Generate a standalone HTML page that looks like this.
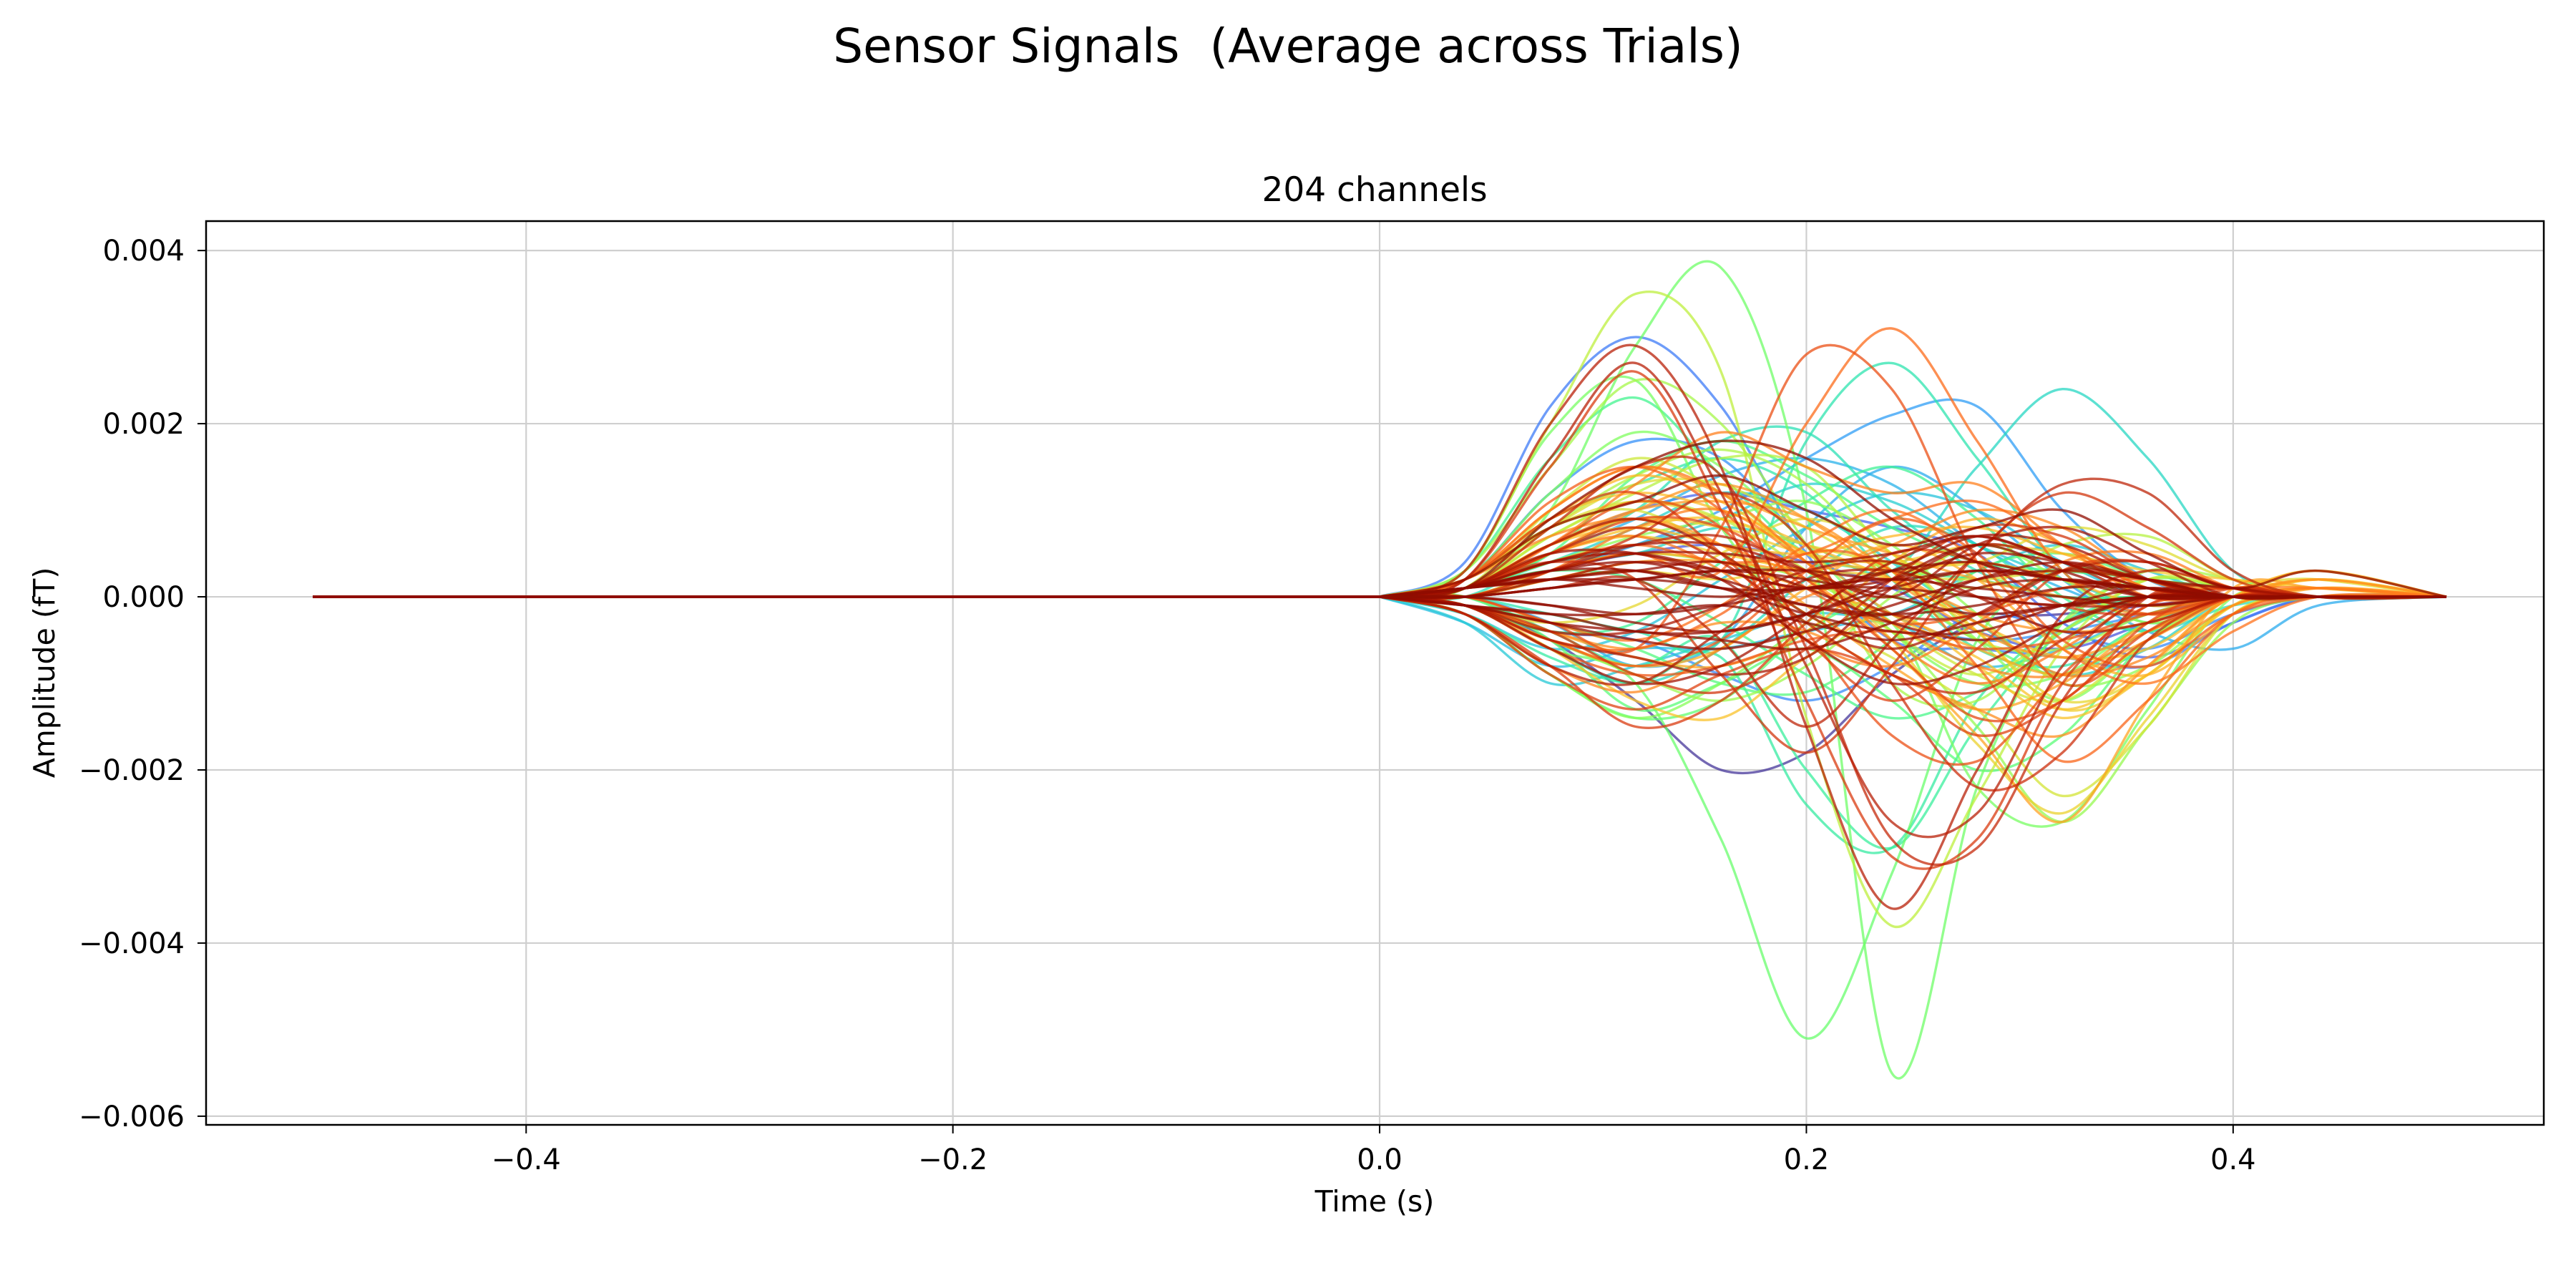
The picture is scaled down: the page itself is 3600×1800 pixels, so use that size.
<!DOCTYPE html>
<html><head><meta charset="utf-8">
<style>
html,body{margin:0;padding:0;background:#fff;}
svg{display:block;font-family:"DejaVu Sans","Liberation Sans",sans-serif;}
</style></head>
<body>
<svg id="chart" width="3600" height="1800" viewBox="0 0 3600 1800">
<rect x="0" y="0" width="3600" height="1800" fill="#fff"/>
<text x="1800" y="87" font-size="66" text-anchor="middle" xml:space="preserve">Sensor Signals  (Average across Trials)</text>
<text x="1921" y="281" font-size="47" text-anchor="middle">204 channels</text>
<g id="grid"></g>
<clipPath id="clip"><rect x="288" y="309" width="3267" height="1263"/></clipPath>
<g id="lines" clip-path="url(#clip)"></g>
<rect x="288" y="309" width="3267" height="1263" fill="none" stroke="#000" stroke-width="2.5"/>
<g id="ticks"></g>
<text x="1921" y="1693" font-size="41" text-anchor="middle">Time (s)</text>
<text x="0" y="0" font-size="41" text-anchor="middle" transform="translate(76,940) rotate(-90)">Amplitude (fT)</text>
</svg>
<script>
// knot times (s) for the post-stimulus section; values in units of 1e-3
const knotTimes = [0,0.04,0.08,0.12,0.16,0.2,0.24,0.28,0.32,0.36,0.4,0.44,0.5];
const xTicks = [-0.4,-0.2,0.0,0.2,0.4];
const xTickLabels = ["\u22120.4","\u22120.2","0.0","0.2","0.4"];
const yTicks = [0.004,0.002,0,-0.002,-0.004,-0.006];
const yTickLabels = ["0.004","0.002","0.000","\u22120.002","\u22120.004","\u22120.006"];
const channelColors = [0.05,0.1,0.15,0.18,0.2,0.22,0.25,0.28,0.3,0.32,0.33,0.35,0.36,0.38,0.4,0.42,0.44,0.45,0.46,0.48,0.5,0.52,0.54,0.55,0.57,0.6,0.62,0.64,0.66,0.68,0.7,0.71,0.72,0.73,0.74,0.75,0.76,0.77,0.78,0.79,0.8,0.81,0.82,0.83,0.84,0.85,0.86,0.87,0.88,0.89,0.9,0.9,0.91,0.92,0.92,0.93,0.93,0.94,0.94,0.95,0.95,0.96,0.96,0.97,0.97,0.98,0.98,0.99,0.99,1.0,1.0,0.63,0.67,0.69,0.58,0.43,0.27,0.37,0.53,0.85,
0.12,0.17,0.23,0.26,0.29,0.31,0.34,0.39,0.41,0.47,0.49,0.51,0.56,0.59,0.61,0.65,0.67,0.69,0.7,0.72,0.74,0.76,0.78,0.8,0.82,0.84,0.86,0.88,0.9,0.92,0.94,0.96,0.97,0.98,0.99,1.0,0.75,0.65,0.35,0.45];
const channelValues = [
[0,-0.1,-0.5,-1.2,-2.0,-1.8,-0.9,-0.3,-0.2,-0.1,0,0,0],
[0,0,0.3,0.5,0.6,0.4,0.1,-0.4,-0.6,-0.3,0,0,0],
[0,0.4,2.2,3.0,2.2,0.5,-0.5,-0.6,-0.7,-0.8,-0.3,0,0],
[0,0.2,1.2,1.8,1.6,0.6,-0.2,-0.5,-0.4,-0.2,0,0,0],
[0,0,0.3,0.6,1.0,1.6,2.1,2.2,1.0,0.2,0,0,0],
[0,0,-0.3,-0.8,-0.5,0.8,1.5,1.0,0.2,-0.4,-0.6,-0.1,0],
[0,-0.3,-0.8,-0.6,-0.6,-0.4,-0.3,-0.8,-0.6,-0.2,0,0,0],
[0,0.1,0.4,0.6,0.9,1.3,1.1,0.6,0.2,-0.1,0,0,0],
[0,0.1,0.4,0.5,0.8,0.6,0.3,1.5,2.4,1.6,0.3,0,0],
[0,0,0.5,1.0,1.8,1.9,1.0,0.3,0,0,0,0,0],
[0,0,-0.2,-0.4,-0.5,1.8,2.7,1.6,0.3,-0.3,0,0,0],
[0,-0.2,-0.7,-1.0,-0.7,-2.4,-2.9,-1.2,-0.3,0,0,0,0],
[0,0,-0.4,-0.8,-0.5,-2.0,-2.9,-1.5,-0.4,0,0,0,0],
[0,0.3,1.6,2.3,1.4,0.5,0.3,0.2,0.0,0,0,0,0],
[0,0.1,0.5,1.4,1.8,1.4,0.8,0.4,0.3,0.2,0,0,0],
[0,0,-0.5,-1.3,-1.0,-0.6,-1.2,-2.0,-1.6,-0.5,0,0,0],
[0,-0.1,-0.6,-1.0,-2.8,-5.1,-3.2,-0.5,0.3,0.2,0.1,0,0],
[0,0.1,1.0,2.9,3.8,1.0,-5.5,-2.2,-0.3,0.2,0.1,0,0],
[0,0.3,1.9,2.5,0.8,-0.3,-0.3,-2.2,-2.6,-1.3,0,0,0],
[0,-0.2,-0.9,-1.4,-1.0,-0.3,0.4,-0.5,-1.2,-0.5,0,0,0],
[0,0,0.3,0.5,0.4,0.2,-0.4,-1.5,-2.6,-1.5,-0.3,0,0],
[0,0.3,1.5,2.5,2.0,0.6,-1.0,-1.2,-0.3,0.3,0.2,0,0],
[0,0.1,0.7,1.2,1.6,1.5,0.5,0.1,0.6,0.7,0.2,0,0],
[0,0.3,2.0,3.5,2.6,-1.4,-3.8,-2.3,-0.6,0.2,0.1,0,0],
[0,0.1,1.0,1.6,1.2,0.4,-0.3,-0.9,-1.2,-0.5,0,0,0],
[0,0.2,0.8,1.1,0.9,0.6,0.4,0.4,0.8,0.6,0.2,0.2,0],
[0,0,0.2,0.3,0.2,0.3,-0.5,-1.7,-2.5,-1.4,-0.2,0,0],
[0,0.1,0.6,0.9,0.8,0.5,0.4,0.6,0.5,0.3,0.2,0.1,0],
[0,0.2,0.9,1.2,1.0,0.6,0.2,-0.3,-0.7,-0.6,0,0.3,0],
[0,-0.1,-0.5,-0.8,-0.6,0.1,0.6,0.2,-0.6,-0.9,-0.2,0.1,0],
[0,0,0.2,0.4,0.4,0.2,-0.6,-1.6,-2.6,-1.2,0.1,0.1,0],
[0,0.2,1.0,1.5,1.2,0.8,0.5,0.2,0.0,-0.2,0,0.1,0],
[0,0.1,0.6,1.0,1.1,0.9,0.3,-0.2,-0.4,-0.3,0,0.1,0],
[0,-0.1,-0.4,-0.6,-0.3,-0.4,-0.9,-1.3,-1.6,-0.8,0,0,0],
[0,0.2,0.7,0.9,0.6,0.3,0.6,1.0,0.8,0.2,0,0,0],
[0,0,0.3,0.8,1.0,0.4,-0.3,-0.8,-0.9,-0.4,0,0,0],
[0,0.1,0.5,0.7,0.3,-0.5,-0.8,-0.3,0.4,0.5,0.1,0,0],
[0,0,-0.3,-0.5,-0.1,0.6,1.0,0.4,-0.6,-1.0,-0.4,0,0],
[0,0.1,0.3,0.5,0.3,2.0,3.1,1.8,0.3,-0.2,0,0,0],
[0,-0.1,-0.5,-0.6,-0.2,0.5,0.3,-0.8,-1.9,-1.2,-0.2,0,0],
[0,0.2,1.1,1.5,1.0,0.1,-0.3,-0.2,0.1,0.2,0,0,0],
[0,-0.1,-0.6,-0.9,-0.8,-0.5,-0.4,-0.6,-0.5,-0.2,0,0,0],
[0,0,-0.3,-0.6,0.8,2.8,2.4,0.4,-1.0,-0.5,0,0,0],
[0,0.1,0.5,0.9,0.8,0.2,-0.6,-1.4,-1.2,-0.3,0.1,0,0],
[0,-0.2,-0.9,-1.3,-0.9,-0.6,-0.9,-1.6,-1.2,-0.4,0,0,0],
[0,0.2,1.5,2.6,1.0,-1.2,-3.0,-2.8,-1.0,-0.1,0.1,0,0],
[0,0.1,0.4,0.2,-0.9,-1.8,-0.8,0.5,1.2,0.8,0.2,0,0],
[0,0,0.3,0.7,1.2,0.6,-1.0,-2.2,-1.8,-0.5,0,0,0],
[0,0.1,0.8,1.5,1.4,-0.6,-2.8,-2.9,-1.2,0,0.1,0,0],
[0,0,0.1,0.2,-0.5,-1.5,-0.5,0.5,1.3,1.2,0.3,0,0],
[0,0.3,2.0,2.9,1.5,-1.5,-3.6,-2.0,-0.2,0.3,0.1,0,0],
[0,0.2,1.6,2.7,1.2,-0.8,-2.6,-2.5,-0.8,0,0,0,0],
[0,-0.2,-0.8,-1.0,-0.4,0.2,0.3,0.0,-0.1,-0.1,0,0,0],
[0,0.1,0.6,0.9,0.5,-0.2,-0.6,-0.2,0.3,0.2,0,0,0],
[0,-0.1,-0.5,-0.7,-0.9,-0.7,0.1,0.6,0.4,0,0,0,0],
[0,0.1,0.4,0.6,0.6,0.3,0.0,0.6,0.8,0.4,0,0,0],
[0,-0.1,-0.6,-1.0,-0.8,-0.2,0.4,0.7,0.4,0.1,0,0,0],
[0,0.1,0.5,0.5,0.2,-0.5,-1.0,-0.8,-0.3,0,0,0,0],
[0,0.1,0.2,0.4,0.3,0.1,0.3,0.7,0.6,0.2,0,0,0],
[0,-0.1,-0.3,-0.5,-0.6,-0.4,-0.1,0.2,0.3,0.2,0,0,0],
[0,0.1,0.4,0.5,0.3,0.1,0.2,0.5,0.4,0.2,0.1,0,0],
[0,0,0.2,0.3,0.4,0.1,-0.3,-0.5,-0.3,0,0,0,0],
[0,-0.1,-0.3,-0.4,-0.5,-0.6,-0.3,0.1,0.2,0.1,0,0,0],
[0,0.1,0.3,0.4,0.2,-0.1,-0.2,0.2,0.4,0.2,0,0,0],
[0,0,-0.1,-0.3,-0.4,-0.2,0.2,0.6,0.3,0,0,0,0],
[0,0.1,0.3,0.3,0.1,0.1,0.3,0.4,0.2,0.1,0,0,0],
[0,-0.1,-0.2,-0.2,-0.1,-0.3,-0.5,-0.3,-0.1,0,0,0,0],
[0,0.1,0.2,0.2,0.3,0.2,0.0,-0.2,-0.1,0,0,0,0],
[0,0,-0.1,-0.2,-0.1,0.1,0.2,0.1,0.0,-0.1,0,0,0],
[0,0.1,0.2,0.1,0.0,0.1,0.1,0.0,-0.1,0,0,0,0],
[0,0,0.1,0.2,0.1,-0.1,-0.2,-0.1,0.1,0.1,0,0,0],
[0,0.1,0.5,0.7,0.5,0.3,0.2,-0.4,-1.3,-0.9,-0.1,0.2,0],
[0,0.1,0.6,0.8,0.6,0.5,0.7,0.8,0.5,0.2,0.1,0.3,0],
[0,0,0.3,0.5,0.4,0.1,-0.2,-0.6,-0.9,-0.5,0,0.2,0],
[0,0.2,0.8,1.0,0.5,-0.2,-0.7,-1.3,-2.3,-1.5,-0.2,0,0],
[0,-0.2,-0.9,-1.4,-1.2,-0.4,0.0,-0.5,-0.9,-0.4,0,0,0],
[0,-0.3,-1.0,-0.8,-0.5,-0.2,-0.2,0.3,0.6,0.3,0,0,0],
[0,-0.1,-0.4,-0.3,0.4,1.1,1.5,0.9,0.0,-0.4,0,0,0],
[0,0.1,0.8,1.4,1.7,1.3,0.3,-0.5,-0.6,-0.2,0,0,0],
[0,-0.2,-0.8,-1.5,-1.2,-0.3,0.5,0.4,-0.1,-0.2,0,0,0],
[0,0.1,0.6,1.0,1.2,1.0,0.8,0.5,-0.3,-0.7,-0.3,0,0],
[0,-0.1,-0.4,-0.5,-0.9,-1.2,-0.8,-0.2,-0.4,-0.6,-0.2,0,0],
[0,0.1,0.5,0.9,1.4,1.6,1.3,0.6,0.1,-0.2,0,0,0],
[0,-0.2,-0.6,-0.4,0.2,0.8,1.2,1.0,0.4,0,0,0,0],
[0,0.1,0.4,0.8,1.2,1.0,0.4,-0.3,-0.9,-0.6,0,0,0],
[0,-0.1,-0.6,-1.0,-0.6,0.2,0.8,0.6,-0.1,-0.4,-0.1,0,0],
[0,0.2,0.9,1.3,1.6,1.2,0.2,-0.6,-0.8,-0.3,0,0,0],
[0,0.1,0.3,0.2,-0.3,-0.9,-1.4,-1.1,-0.4,0,0,0,0],
[0,-0.1,-0.3,-0.6,-1.0,-1.1,-0.5,0.3,0.5,0.2,0,0,0],
[0,0.2,1.2,1.9,1.5,0.6,-0.4,-1.0,-0.9,-0.3,0,0,0],
[0,0.1,0.4,0.7,0.9,1.1,0.6,-0.2,-1.0,-0.8,-0.1,0,0],
[0,-0.1,-0.5,-0.9,-1.2,-0.8,0.0,0.6,0.2,-0.3,0,0,0],
[0,0.1,0.7,1.1,0.9,0.3,-0.4,-0.9,-0.4,0.2,0.1,0,0],
[0,0.2,0.8,1.3,1.3,0.8,0.3,0.2,0.3,0.2,0,0,0],
[0,-0.1,-0.3,-0.1,0.5,0.9,0.5,-0.4,-1.2,-0.9,-0.1,0,0],
[0,0.1,0.5,0.8,0.9,0.5,-0.2,-0.7,-1.3,-0.8,0,0,0],
[0,0.2,0.9,1.4,1.1,0.5,0.3,0.4,0.2,-0.1,0,0.2,0],
[0,-0.1,-0.4,-0.7,-0.8,-0.4,0.4,0.9,0.6,0.1,0,0.1,0],
[0,0.1,0.6,0.9,0.6,-0.1,-0.8,-1.3,-1.0,-0.3,0,0.1,0],
[0,0.1,0.5,1.0,1.3,0.9,0.2,-0.4,-0.7,-0.4,0,0.2,0],
[0,-0.2,-0.8,-1.1,-0.6,0.0,0.2,-0.3,-0.9,-0.7,-0.1,0.1,0],
[0,0.2,1.0,1.5,1.2,0.4,-0.5,-1.0,-0.6,0.0,0.1,0.1,0],
[0,0.1,0.4,0.6,0.4,0.5,0.9,1.1,0.6,0.1,0,0,0],
[0,-0.1,-0.5,-0.8,-0.5,0.3,0.9,0.5,-0.5,-0.8,-0.2,0,0],
[0,0.1,0.6,1.1,0.8,-0.4,-1.6,-1.9,-0.9,-0.1,0,0,0],
[0,0.2,0.9,1.2,0.5,-0.5,-1.2,-0.6,0.3,0.4,0.1,0,0],
[0,-0.1,-0.4,-0.9,-1.1,-0.6,0.2,0.8,0.7,0.2,0,0,0],
[0,0.1,0.5,0.8,0.4,-0.3,-0.9,-1.1,-0.5,0,0,0,0],
[0,0.1,0.3,0.6,0.7,0.3,-0.2,-0.2,0.3,0.4,0.1,0,0],
[0,-0.1,-0.4,-0.4,-0.1,0.3,0.4,0.0,-0.4,-0.3,0,0,0],
[0,0.1,0.3,0.5,0.5,0.4,0.5,0.7,0.4,0.1,0,0,0],
[0,-0.1,-0.2,-0.4,-0.4,-0.2,0.1,0.3,0.2,0.0,0,0,0],
[0,0.1,0.2,0.3,0.1,-0.2,-0.4,-0.4,-0.1,0.1,0,0,0],
[0,0,0.1,0.2,0.3,0.3,0.2,0.3,0.2,0.1,0,0,0],
[0,0.2,0.8,1.1,1.4,1.0,0.6,0.8,1.0,0.5,0.1,0.3,0],
[0,0.1,0.9,1.5,1.8,1.6,0.9,0.4,0.2,0.1,0,0,0],
[0,0.1,0.6,1.3,1.9,1.5,1.2,1.3,0.6,0,0,0,0],
[0,-0.1,-0.6,-1.2,-1.4,-0.7,-0.2,-0.8,-1.4,-0.9,-0.1,0,0]
];

const NS = "http://www.w3.org/2000/svg";
const X0 = 288, X1 = 3555, Y0 = 309, Y1 = 1572;
const xMin = -0.550, xMax = 0.5456, yMin = -0.00610, yMax = 0.00434;
function xs(t){ return X0 + (t - xMin) / (xMax - xMin) * (X1 - X0); }
function ys(v){ return Y1 - (v - yMin) / (yMax - yMin) * (Y1 - Y0); }

function turbo(x){
  x = Math.max(0, Math.min(1, x));
  const r = 0.13572138 + x*(4.61539260 + x*(-42.66032258 + x*(132.13108234 + x*(-152.94239396 + x*59.28637943))));
  const g = 0.09140261 + x*(2.19418839 + x*(4.84296658 + x*(-14.18503333 + x*(4.27729857 + x*2.82956604))));
  const b = 0.10667330 + x*(12.64194608 + x*(-60.58204836 + x*(110.36276771 + x*(-89.90310912 + x*27.34824973))));
  const c = v => Math.round(Math.max(0, Math.min(1, v)) * 255);
  return "rgb(" + c(r) + "," + c(g) + "," + c(b) + ")";
}

const grid = document.getElementById("grid");
const ticks = document.getElementById("ticks");
xTicks.forEach((t, i) => {
  const x = xs(t);
  const gl = document.createElementNS(NS, "line");
  gl.setAttribute("x1", x); gl.setAttribute("x2", x); gl.setAttribute("y1", Y0); gl.setAttribute("y2", Y1);
  gl.setAttribute("stroke", "#cfcfcf"); gl.setAttribute("stroke-width", "2.2");
  
  
  grid.appendChild(gl);
  const tk = document.createElementNS(NS, "line");
  tk.setAttribute("x1", x); tk.setAttribute("x2", x); tk.setAttribute("y1", Y1); tk.setAttribute("y2", Y1 + 12);
  tk.setAttribute("stroke", "#000"); tk.setAttribute("stroke-width", "2");
  
  
  ticks.appendChild(tk);
  const tx = document.createElementNS(NS, "text");
  tx.setAttribute("x", x); tx.setAttribute("y", Y1 + 62); tx.setAttribute("font-size", "40"); tx.setAttribute("text-anchor", "middle");
  tx.textContent = xTickLabels[i];
  
  
  ticks.appendChild(tx);
});
yTicks.forEach((v, i) => {
  const y = ys(v);
  const gl = document.createElementNS(NS, "line");
  gl.setAttribute("x1", X0); gl.setAttribute("x2", X1); gl.setAttribute("y1", y); gl.setAttribute("y2", y);
  gl.setAttribute("stroke", "#cfcfcf"); gl.setAttribute("stroke-width", "2.2");
  
  
  grid.appendChild(gl);
  const tk = document.createElementNS(NS, "line");
  tk.setAttribute("x1", X0 - 12); tk.setAttribute("x2", X0); tk.setAttribute("y1", y); tk.setAttribute("y2", y);
  tk.setAttribute("stroke", "#000"); tk.setAttribute("stroke-width", "2");
  
  
  ticks.appendChild(tk);
  const tx = document.createElementNS(NS, "text");
  tx.setAttribute("x", X0 - 30); tx.setAttribute("y", y + 14); tx.setAttribute("font-size", "40"); tx.setAttribute("text-anchor", "end");
  tx.textContent = yTickLabels[i];
  
  
  ticks.appendChild(tx);
});

const order = channelValues.map((_, i) => i).sort((a, b) => channelColors[a] - channelColors[b]);
const lines = document.getElementById("lines");
order.forEach(i => {
  const vals = channelValues[i];
  const pts = knotTimes.map((t, k) => [xs(t), ys(vals[k] * 1e-3)]);
  let d = "M" + xs(-0.5).toFixed(1) + "," + ys(0).toFixed(1) + " L" + pts[0][0].toFixed(1) + "," + pts[0][1].toFixed(1);
  for (let k = 0; k < pts.length - 1; k++) {
    const p0 = pts[Math.max(0, k - 1)], p1 = pts[k], p2 = pts[k + 1], p3 = pts[Math.min(pts.length - 1, k + 2)];
    const c1x = p1[0] + (p2[0] - p0[0]) / 6, c1y = p1[1] + (p2[1] - p0[1]) / 6;
    const c2x = p2[0] - (p3[0] - p1[0]) / 6, c2y = p2[1] - (p3[1] - p1[1]) / 6;
    d += " C" + c1x.toFixed(1) + "," + c1y.toFixed(1) + " " + c2x.toFixed(1) + "," + c2y.toFixed(1) + " " + p2[0].toFixed(1) + "," + p2[1].toFixed(1);
  }
  const p = document.createElementNS(NS, "path");
  p.setAttribute("d", d);
  p.setAttribute("fill", "none");
  p.setAttribute("stroke", turbo(channelColors[i]));
  p.setAttribute("stroke-width", "3.4");
  p.setAttribute("stroke-opacity", "0.75");
  p.setAttribute("stroke-linejoin", "round");
  
  
  lines.appendChild(p);
});
</script>
</body></html>
